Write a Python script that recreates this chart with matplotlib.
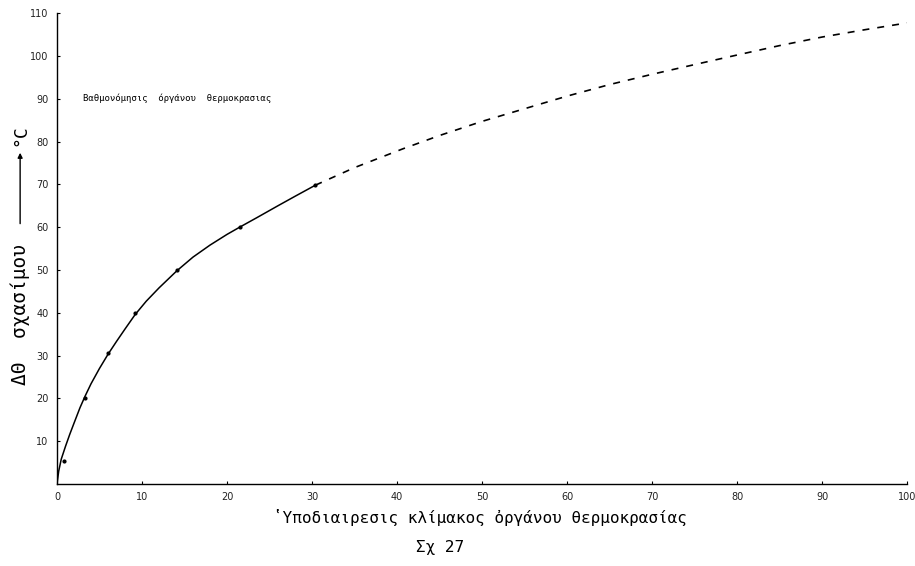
import matplotlib
matplotlib.use("Agg")
import matplotlib.pyplot as plt
from matplotlib.patches import FancyArrowPatch

# traced solid calibration curve
curve_x = [0, 0.2, 0.5, 1, 1.5, 2, 2.7, 3.3, 4, 5, 6, 7, 8, 9.2, 10.5, 12,
           14.1, 16, 18, 20, 21.5, 23.5, 26, 28, 30.4]
curve_y = [0, 3, 5.8, 8.8, 11.6, 14.2, 17.8, 20.5, 23.4, 27, 30.3, 33.3, 36.2,
           39.6, 42.7, 45.8, 49.8, 53, 55.8, 58.3, 60, 62.2, 65.0, 67.2, 69.8]

# measured points (dots)
pts_x = [0.8, 3.3, 6.0, 9.2, 14.1, 21.5, 30.4]
pts_y = [5.3, 20.0, 30.5, 40.0, 50.0, 60.0, 69.8]

# dashed extrapolation
ext_x = [30.4, 35, 40.7, 45, 50, 56.6, 60, 65, 70, 75.3, 80, 85, 90, 95, 100]
ext_y = [69.8, 73.9, 78.3, 81.4, 84.7, 88.6, 90.6, 93.3, 95.7, 98.1, 100.2,
         102.4, 104.4, 106.1, 107.7]

x_ticks = [0, 10, 20, 30, 40, 50, 60, 70, 80, 90, 100]
y_ticks = [10, 20, 30, 40, 50, 60, 70, 80, 90, 100, 110]

fig = plt.figure(figsize=(9.15, 5.66), dpi=100)
ax = fig.add_axes([0.0623, 0.1449, 0.929, 0.832])

ax.plot(curve_x, curve_y, color='black', lw=1.1)
ax.plot(pts_x, pts_y, 'o', color='black', ms=2.0)
line, = ax.plot(ext_x, ext_y, color='black', lw=1.2)
line.set_dashes((4.2, 4.8))

ax.set_xlim(0, 100)
ax.set_ylim(0, 110)
ax.spines['top'].set_visible(False)
ax.spines['right'].set_visible(False)
ax.spines['left'].set_linewidth(1.0)
ax.spines['bottom'].set_linewidth(1.0)

ax.set_xticks(x_ticks)
ax.set_xticklabels([str(v) for v in x_ticks], fontsize=7, color='#222222')
ax.set_yticks(y_ticks)
ax.set_yticklabels([str(v) for v in y_ticks], fontsize=7, color='#222222')
ax.tick_params(axis='both', direction='in', length=2, width=0.8, pad=6)

# note inside the plot
ax.text(3, 90, 'Βαθμονόμησις  όργάνου  θερμοκρασιας', fontsize=6.5,
        family='DejaVu Sans Mono', va='center', ha='left')

# x label and figure number (typewriter look)
fig.text(0.525, 0.085, 'ʽΥποδιαιρεσις κλίμακος ὀργάνου θερμοκρασίας',
         fontsize=11.5, family='DejaVu Sans Mono', ha='center', va='center')
fig.text(0.481, 0.033, 'Σχ 27', fontsize=11.5, family='DejaVu Sans Mono',
         ha='center', va='center')

# y label with arrow
fig.text(0.022, 0.445, 'ΔΘ  σχασίμου', fontsize=14, family='DejaVu Sans Mono',
         rotation=90, ha='center', va='center')
fig.patches.append(FancyArrowPatch(
    (0.022, 0.600), (0.022, 0.735), transform=fig.transFigure,
    arrowstyle='-|>', mutation_scale=7, lw=1.0, color='black'))
fig.text(0.022, 0.762, '°C', fontsize=13, family='DejaVu Sans Mono',
         rotation=90, ha='center', va='center')

fig.savefig('out.png', dpi=100)
